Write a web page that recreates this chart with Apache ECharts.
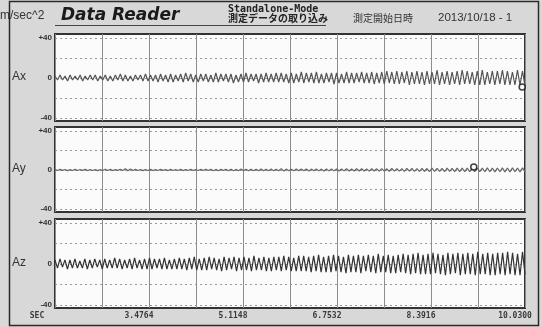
<!DOCTYPE html>
<html>
<head>
<meta charset="utf-8">
<script src="https://cdn.jsdelivr.net/npm/echarts@6/dist/echarts.min.js"></script>
<style>
  html, body { margin: 0; padding: 0; background: #d8d8d8; }
  #chart { width: 542px; height: 327px; }
</style>
</head>
<body>
<div id="chart"></div>
<script>
// x axis runs in screen divisions (0..10), labels are the seconds printed under every 2nd division
const xTickLabels = ['SEC', '', '3.4764', '', '5.1148', '', '6.7532', '', '8.3916', '', '10.0300']
const yTickValues = [-40, 0, 40]
const yTickLabels = ['-40', '0', '+40']
const yGridValues = [-40, -20, 0, 20, 40]
const channelNames = ['Ax', 'Ay', 'Az']

// peaks and troughs of each trace, read left to right (m/sec^2)
const axPeaks = [
  2, -2, 3, -2, 2, -3, 3, -2, 2, -2, 3, -3, 2, -2, 3, -2, 3, -3, 2, -2,
  3, -3, 2, -3, 3, -2, 4, -3, 3, -3, 2, -3, 3, -2, 3, -3, 4, -3, 3, -3,
  3, -4, 4, -3, 3, -4, 4, -4, 3, -3, 4, -4, 5, -3, 4, -4, 3, -4, 4, -3,
  4, -4, 3, -4, 5, -4, 4, -3, 4, -4, 4, -5, 3, -4, 4, -4, 5, -4, 4, -3,
  4, -5, 4, -4, 5, -4, 4, -4, 5, -4,
  5, -4, 4, -5, 5, -5, 4, -4, 6, -5, 5, -4, 5, -5, 6, -5, 4, -5, 5, -4,
  5, -6, 5, -5, 4, -5, 6, -5, 5, -5, 5, -4, 6, -5, 5, -5, 6, -6, 5, -5,
  6, -6, 7, -5, 6, -6, 7, -6, 6, -5, 7, -7, 6, -6, 7, -6, 6, -7, 7, -6,
  6, -6, 8, -7, 6, -6, 7, -7, 6, -6, 7, -7, 8, -6, 7, -6, 6, -7, 7, -7,
  8, -7, 6, -6, 7, -7, 7, -6, 8, -7, 7, -7, 6, -7, 8, -7, 7, -8
]
const ayPeaks = [
  0.5, -0.5, 0.6, -0.4, 0.5, -0.6, 0.4, -0.5, 0.6, -0.5, 0.5, -0.4, 0.6, -0.6, 0.5, -0.5,
  0.4, -0.6, 0.5, -0.5, 0.7, -0.5, 0.6, -0.6, 0.5, -0.4, 0.8, -0.6, 1.2, -0.8, 1, -0.6,
  0.6, -0.5, 0.5, -0.6, 0.5, -0.5, 0.6, -0.6, 0.5, -0.5, 0.6, -0.4, 0.5, -0.6, 0.6, -0.5,
  0.5, -0.5, 0.6, -0.6, 0.5, -0.5, 0.7, -0.6, 0.5, -0.5, 0.6, -0.6,
  0.8, -0.6, 0.7, -0.8, 0.6, -0.7, 0.8, -0.6, 0.7, -0.7, 0.8, -0.8, 0.6, -0.7, 0.9, -0.7,
  0.7, -0.8, 0.8, -0.7, 0.7, -0.8, 1, -0.8, 0.8, -0.7, 0.9, -0.9, 0.8, -0.7, 1.4, -1,
  0.9, -0.8, 0.8, -0.9, 1, -0.8, 0.9, -0.8, 1, -1, 0.9, -0.8, 1, -0.9, 0.9, -1,
  1.1, -0.9, 1, -0.9, 1.1, -1, 1, -0.9, 1.2, -1, 1, -1.1,
  1.2, -1, 1.3, -1.1, 1, -1.2, 1.3, -1.1, 1.2, -1.2, 1.4, -1.1, 1.2, -1.3, 1.5, -1.2,
  1.3, -1.2, 1.4, -1.4, 1.5, -1.2, 1.6, -1.4, 1.4, -1.5, 1.6, -1.3, 1.5, -1.6, 1.8, -1.4,
  1.6, -1.5, 1.7, -1.6, 1.8, -1.5, 1.6, -1.7, 1.9, -1.6, 1.8, -1.7, 2, -1.6, 1.8, -1.8,
  2, -1.7, 1.9, -1.8, 2.1, -1.8, 1.9, -2, 2, -1.8, 2.1, -1.9, 2, -2, 2.2, -1.8,
  2, -2, 2.1, -1.9
]
const azPeaks = [
  4, -4, 5, -3, 4, -5, 4, -4, 5, -4, 3, -4, 5, -5, 4, -4, 5, -3, 4, -5,
  5, -4, 4, -4, 6, -4, 5, -5, 4, -4, 5, -5, 6, -4, 4, -5, 5, -5, 6, -5,
  5, -4, 5, -5, 6, -5, 4, -5, 5, -5,
  6, -5, 5, -6, 6, -5, 7, -6, 5, -6, 6, -6, 7, -5, 6, -6, 5, -7, 7, -6,
  6, -5, 7, -7, 6, -6, 7, -6, 6, -7, 8, -6, 6, -6, 7, -7, 6, -7, 7, -6,
  7, -7, 8, -6, 7, -7, 6, -7, 8, -7,
  8, -7, 7, -8, 8, -7, 9, -8, 7, -8, 8, -8, 9, -7, 8, -8, 7, -9, 9, -8,
  8, -8, 9, -9, 8, -7, 9, -8, 8, -9, 10, -8, 8, -8, 9, -9, 8, -9, 9, -8,
  10, -9, 9, -10, 10, -9, 11, -10, 9, -10, 10, -10, 11, -9, 10, -10, 9, -11, 11, -10,
  10, -9, 11, -11, 10, -10, 11, -10, 10, -11, 12, -10, 10, -10, 11, -11, 10, -11, 11, -10,
  11, -11, 12, -10, 11, -11, 10, -11, 12, -10
]
// small cursor circles: [division, value]
const cursorAx = [9.94, -9]
const cursorAy = [8.91, 3]

const Y_MIN = -43
const Y_MAX = 44
const panels = [
  { top: 34, height: 87, color: '#555' },
  { top: 127, height: 85, color: '#666' },
  { top: 219, height: 89, color: '#333' },
]

const toPoints = (values) => values.map((v, i) => [i * 10 / (values.length - 1), v])
const traces = [axPeaks, ayPeaks, azPeaks]
const cursors = [cursorAx, cursorAy, null]

const chart = echarts.init(document.getElementById('chart'), null, { renderer: 'canvas' })

const grid = panels.map((p) => ({
  left: 55,
  right: 17,
  top: p.top,
  height: p.height,
  show: true,
  backgroundColor: '#fbfbfb',
  borderColor: '#333',
  borderWidth: 2,
}))

const xAxis = panels.map((_, k) => ({
  gridIndex: k,
  type: 'value',
  min: 0,
  max: 10,
  interval: 1,
  axisLine: { show: false },
  axisTick: { show: false },
  axisLabel: {
    show: k === 2,
    showMinLabel: true,
    showMaxLabel: true,
    margin: 4,
    fontFamily: 'DejaVu Sans Mono',
    fontSize: 8,
    fontWeight: 'bold',
    color: '#3a3a3a',
    align: 'center',
    padding: [0, 20, 0, 0],
    formatter: (v) => {
      const label = xTickLabels[Math.round(v)]
      return Math.round(v) === 0 ? '{s|' + label + '}' : label
    },
    rich: { s: { padding: [0, 16, 0, 0], fontFamily: 'DejaVu Sans Mono', fontSize: 8, fontWeight: 'bold', color: '#3a3a3a' } },
  },
  splitLine: { show: true, lineStyle: { color: '#8c8c8c', width: 1 } },
}))

const yAxis = panels.map((_, k) => ({
  gridIndex: k,
  type: 'value',
  min: Y_MIN,
  max: Y_MAX,
  axisLine: { show: false },
  axisTick: { show: false, customValues: yGridValues },
  axisLabel: {
    customValues: yTickValues,
    formatter: (v) => yTickLabels[yTickValues.indexOf(v)],
    margin: 3,
    fontFamily: 'Liberation Sans',
    fontSize: 8,
    fontWeight: 'bold',
    color: '#333',
  },
  splitLine: {
    show: true,
    customValues: yGridValues,
    lineStyle: { type: [2, 3], color: '#9a9a9a', width: 1 },
  },
}))

const series = []
traces.forEach((values, k) => {
  series.push({
    name: channelNames[k],
    type: 'line',
    xAxisIndex: k,
    yAxisIndex: k,
    data: toPoints(values),
    showSymbol: false,
    lineStyle: { color: panels[k].color, width: 1.2 },
    silent: true,
  })
  if (cursors[k]) {
    series.push({
      type: 'scatter',
      xAxisIndex: k,
      yAxisIndex: k,
      data: [cursors[k]],
      symbol: 'circle',
      symbolSize: 6,
      itemStyle: { color: '#fbfbfb', borderColor: '#111', borderWidth: 1.5 },
      z: 5,
    })
  }
})

const zeroY = (p) => p.top + p.height * Y_MAX / (Y_MAX - Y_MIN)

const graphic = [
  { type: 'rect', shape: { x: 9.5, y: 1.5, width: 529, height: 324 }, style: { fill: 'none', stroke: '#2a2a2a', lineWidth: 1.5 }, silent: true },
  { type: 'line', shape: { x1: 55, y1: 25.5, x2: 326, y2: 25.5 }, style: { stroke: '#444', lineWidth: 1 }, silent: true },
  { type: 'text', left: 0, top: 10, style: { text: 'm/sec^2', font: '12px "Liberation Sans"', fill: '#333' } },
  { type: 'text', left: 61, top: 7, style: { text: 'Data Reader', font: 'italic bold 17px "DejaVu Sans"', fill: '#1a1a1a' } },
  { type: 'text', left: 228, top: 4, style: { text: 'Standalone-Mode', font: 'bold 10px "DejaVu Sans Mono"', fill: '#222' } },
  { type: 'text', left: 228, top: 13, style: { text: '測定データの取り込み', font: 'bold 10px "Noto Sans CJK JP"', fill: '#222' } },
  { type: 'text', left: 353, top: 13, style: { text: '測定開始日時', font: '10px "Noto Sans CJK JP"', fill: '#333' } },
  { type: 'text', left: 438, top: 12, style: { text: '2013/10/18 - 1', font: '11.5px "Liberation Sans"', fill: '#333' } },
].concat(panels.map((p, k) => ({
  type: 'text',
  left: 12,
  top: zeroY(p) - 7,
  style: { text: channelNames[k], font: '12px "Liberation Sans"', fill: '#333' },
})))

chart.setOption({
  animation: false,
  backgroundColor: '#d8d8d8',
  grid,
  xAxis,
  yAxis,
  series,
  graphic,
})
</script>
</body>
</html>
